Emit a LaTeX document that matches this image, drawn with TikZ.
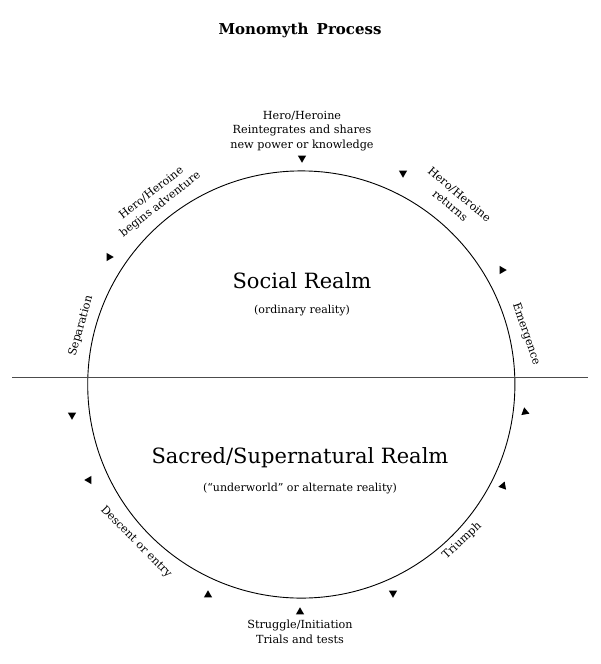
\documentclass[tikz,border=0pt]{standalone}
\usepackage{fontspec}
\setmainfont{DejaVu Serif}
\usetikzlibrary{shapes.geometric}
\tikzset{
  mk/.style={regular polygon, regular polygon sides=3, fill=black, draw=none, inner sep=0pt, minimum size=9.5pt},
  lbl/.style={font=\fontsize{11.2}{14.5}\selectfont, align=center, inner sep=0pt},
  realm/.style={font=\fontsize{21}{24}\selectfont, inner sep=0pt},
  subl/.style={font=\fontsize{11}{13}\selectfont, inner sep=0pt},
  ttl/.style={font=\fontsize{15}{18}\selectfont\bfseries, inner sep=0pt},
  ring/.style={circle, draw=black, line width=0.9pt, inner sep=0pt, minimum size=427.2pt},
  divide/.style={draw=black!70, line width=0.7pt}
}
\begin{document}
\begin{tikzpicture}[x=1pt,y=-1pt]
\useasboundingbox (0,0) rectangle (600,664);
\fill[white] (0,0) rectangle (600,664);

% title
\node[ttl] (title) at (300,30) {Monomyth\hspace{0.55em}Process};

% circle and dividing line
\node[ring] (circ) at (301.3,384.5) {};
\coordinate (L) at (12,377.5);
\coordinate (R) at (588,377.5);
\draw[divide] (L) -- (R);

% realm texts
\node[realm] (social) at (302,281) {Social Realm};
\node[subl] (ordinary) at (302,311) {(ordinary reality)};
\node[realm] (sacred) at (300,458) {Sacred/Supernatural Realm};
\node[subl] (under) at (300,489) {(“underworld” or alternate reality)};

% stage labels
\node[lbl] (reint) at (302,131) {Hero/Heroine\\Reintegrates and shares\\new power or knowledge};
\node[lbl, rotate=38] (begins) at (156,199) {Hero/Heroine\\begins adventure};
\node[lbl, rotate=-40] (returns) at (455,200) {Hero/Heroine\\returns};
\node[lbl, rotate=74] (separation) at (81,326) {Separation};
\node[lbl, rotate=-71] (emergence) at (526,334) {Emergence};
\node[lbl, rotate=-45] (descent) at (136,542) {Descent or entry};
\node[lbl, rotate=43] (triumph) at (462,541) {Triumph};
\node[lbl] (struggle) at (300,632) {Struggle/Initiation\\Trials and tests};

% markers
\node[mk, rotate=180] (m1) at (302,158) {};
\node[mk, rotate=-90] (m2) at (109,257) {};
\node[mk, rotate=180] (m3) at (403,173) {};
\node[mk, rotate=-90] (m4) at (502,270) {};
\node[mk, rotate=180] (m5) at (72,415) {};
\node[mk, rotate=90] (m6) at (89,480) {};
\node[mk, rotate=10] (m7) at (525,412) {};
\node[mk, rotate=100] (m8) at (503,486) {};
\node[mk] (m9) at (208,595) {};
\node[mk] (m10) at (300,612) {};
\node[mk, rotate=180] (m11) at (393,593) {};
\end{tikzpicture}
\end{document}
